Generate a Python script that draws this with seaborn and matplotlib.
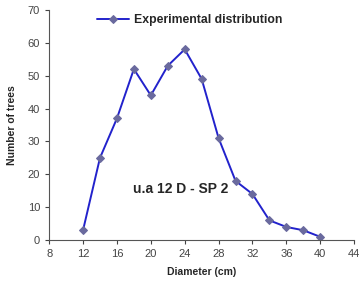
import matplotlib
matplotlib.use("Agg")
import matplotlib.pyplot as plt
import seaborn as sns
import pandas as pd

# Diameter classes and tree counts
diameter = [12, 14, 16, 18, 20, 22, 24, 26, 28, 30, 32, 34, 36, 38, 40]
trees = [3, 25, 37, 52, 44, 53, 58, 49, 31, 18, 14, 6, 4, 3, 1]
x_ticks = [8, 12, 16, 20, 24, 28, 32, 36, 40, 44]
y_ticks = [0, 10, 20, 30, 40, 50, 60, 70]

data = pd.DataFrame({"Diameter": diameter, "Trees": trees})

sns.set_style("ticks")
plt.rcParams['font.family'] = ['Liberation Sans', 'DejaVu Sans']

fig = plt.figure(figsize=(3.64, 2.9), dpi=100)
ax = fig.add_axes([0.135, 0.172, 0.838, 0.794])

sns.lineplot(data=data, x="Diameter", y="Trees", ax=ax, color="#2222CC",
             linewidth=1.4, marker="D", markersize=4.5,
             markerfacecolor="#6A6A9E", markeredgecolor="#6A6A9E",
             label="Experimental distribution")

ax.set_xlim(8, 44)
ax.set_ylim(0, 70)
ax.set_xticks(x_ticks)
ax.set_yticks(y_ticks)
ax.tick_params(labelsize=8, colors="#444444", length=3, width=0.8)
for s in ["top", "right"]:
    ax.spines[s].set_visible(False)
for s in ["left", "bottom"]:
    ax.spines[s].set_color("#555555")
    ax.spines[s].set_linewidth(0.8)

ax.set_xlabel("Diameter (cm)", fontsize=7.5, fontweight="bold", labelpad=6)
ax.set_ylabel("Number of trees", fontsize=7.5, fontweight="bold", labelpad=8)

ax.text(23.5, 15.5, "u.a 12 D - SP 2", fontsize=10, fontweight="bold",
        ha="center", va="center")

ax.legend(loc="upper center", bbox_to_anchor=(0.46, 1.03), frameon=False,
          handlelength=2.6, handletextpad=0.4,
          prop={"weight": "bold", "size": 8.8})

fig.savefig("out.png", dpi=100)
